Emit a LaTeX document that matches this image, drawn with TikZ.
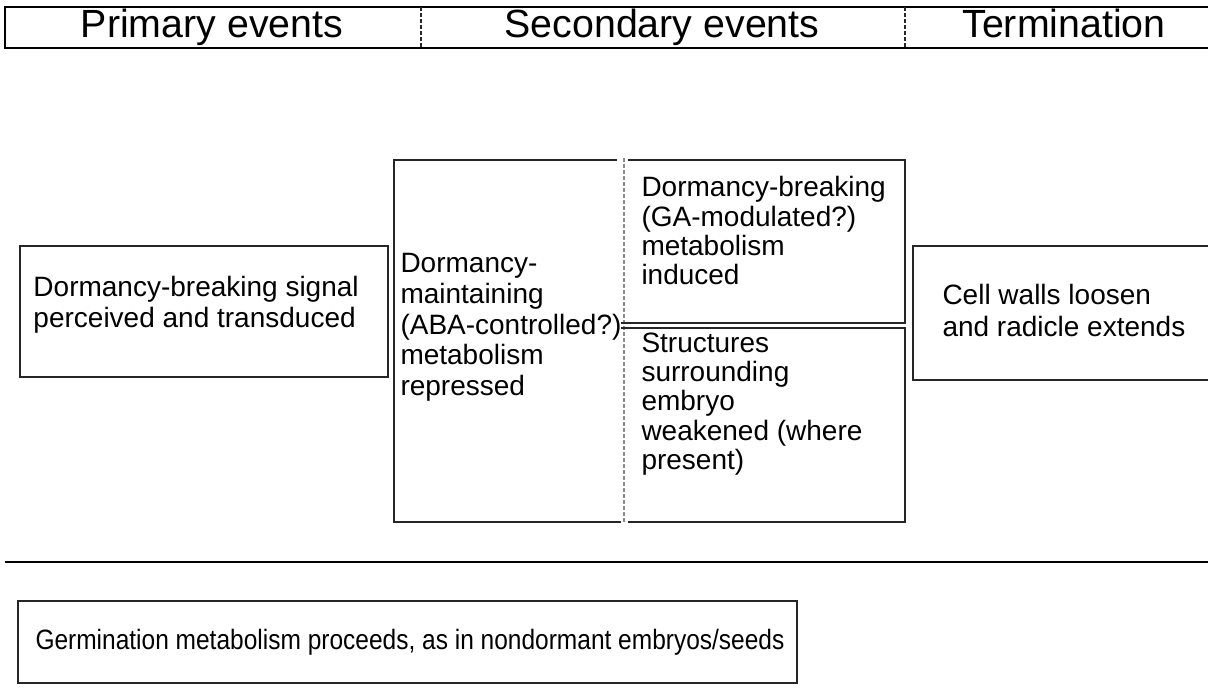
\documentclass[tikz,border=0pt]{standalone}
\usepackage{fontspec}
\setmainfont{Liberation Sans}
\tikzset{every picture/.style={line width=0.75pt}}
\tikzset{
	boxline/.style={draw=black!85, line width=1.4pt},
	headline/.style={draw=black, line width=1.9pt},
	faintline/.style={draw=black!45, line width=1pt, dash pattern={on 3pt off 1.5pt}},
	headtext/.style={font=\fontsize{29.5pt}{31pt}\selectfont, inner sep=0pt, anchor=base},
	celltext/.style={font=\fontsize{21pt}{23pt}\selectfont, align=left, inner sep=0pt, anchor=north west}}

\begin{document}
\begin{tikzpicture}[x=0.75pt,y=0.75pt,yscale=-1,xscale=1]
	\useasboundingbox (0,0) rectangle (1208,698);

	%Shape: Header frame
	\draw [headline] (1212,7) -- (5,7) -- (5,48) -- (1212,48) ;
	%Straight Lines: header dividers
	\draw [faintline, draw=black!85] (421,7) -- (421,48) ;
	\draw [faintline, draw=black!85] (905,7) -- (905,48) ;

	%Shape: Rectangle (signal)
	\draw [boxline] (20,246) rectangle (388,377) ;
	%Shape: Rectangle (maintaining)
	\draw [boxline] (617,160) -- (394,160) -- (394,522) -- (621,522) ;
	%Straight Lines: column divider
	\draw [faintline] (624,158) -- (624,524) ;
	%Shape: Rectangle (induced)
	\draw [boxline] (628,160) -- (905,160) -- (905,323) -- (621,323) ;
	%Shape: Rectangle (weakened)
	\draw [boxline] (621,328) -- (905,328) -- (905,522) -- (628,522) ;
	%Shape: Rectangle (cell walls)
	\draw [boxline] (1212,246) -- (913,246) -- (913,380) -- (1212,380) ;
	%Straight Lines
	\draw [boxline, draw=black] (5,562) -- (1212,562) ;
	%Shape: Rectangle (germination)
	\draw [boxline] (18,601) rectangle (797,683) ;

	% Text Node
	\node [headtext] (primary) at (212,38) {Primary events};
	% Text Node
	\node [headtext] (secondary) at (662,38) {Secondary events};
	% Text Node
	\node [headtext] (termination) at (1064,38) {Termination};
	% Text Node
	\node [celltext] (signal) at (33,276) {Dormancy-breaking signal\\perceived and transduced};
	% Text Node
	\node [celltext] (maintain) at (400,253) {Dormancy-\\maintaining\\(ABA-controlled?)\\metabolism\\repressed};
	% Text Node
	\node [celltext, font=\fontsize{21pt}{22pt}\selectfont] (induce) at (641,176) {Dormancy-breaking\\(GA-modulated?)\\metabolism\\induced};
	% Text Node
	\node [celltext, font=\fontsize{21pt}{22pt}\selectfont] (weaken) at (641,332) {Structures\\surrounding\\embryo\\weakened (where\\present)};
	% Text Node
	\node [celltext, font=\fontsize{21pt}{24pt}\selectfont] (walls) at (942,284) {Cell walls loosen\\and radicle extends};
	% Text Node
	\node [celltext, anchor=west, font=\fontsize{21pt}{22pt}\selectfont\addfontfeatures{FakeStretch=0.875}] (proceed) at (35,642) {Germination metabolism proceeds, as in nondormant embryos/seeds};

\end{tikzpicture}
\end{document}
